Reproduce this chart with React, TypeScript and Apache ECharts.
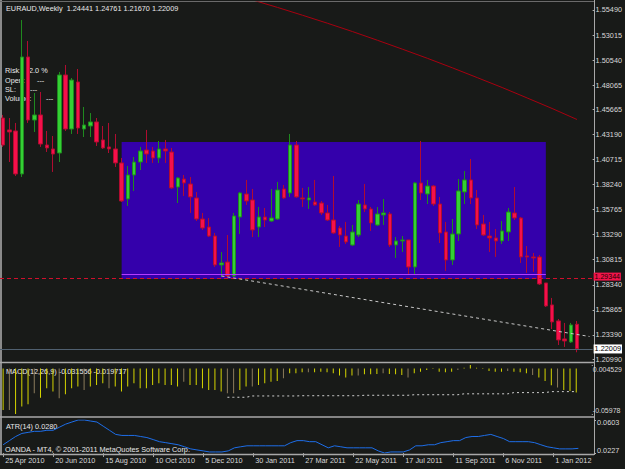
import { useEffect, useRef } from 'react';
import * as echarts from 'echarts';

const FONT = '"Liberation Sans", Arial, sans-serif';
const FS = 7.3;

const symbolTitle = 'EURAUD,Weekly';
const lastQuote = [1.24441, 1.24761, 1.2167, 1.22009];
const startUtc = Date.UTC(2010, 3, 25);
const categoryCount = 95; // 93 weekly bars + chart shift
const monthNames = ['Jan', 'Feb', 'Mar', 'Apr', 'May', 'Jun', 'Jul', 'Aug', 'Sep', 'Oct', 'Nov', 'Dec'];

// weekly OHLC
const opens = [
  1.4482, 1.4364, 1.4354, 1.3929, 1.5085, 1.4462, 1.4512, 1.4215, 1.4176, 1.4136,
  1.4907, 1.4373, 1.4838, 1.4373, 1.4403, 1.4443, 1.4265, 1.4196, 1.4176, 1.4038,
  1.3682, 1.3919, 1.4047, 1.4166, 1.4156, 1.4087, 1.4176, 1.4146, 1.38, 1.3879,
  1.383, 1.3692, 1.3484, 1.3405, 1.3316, 1.303, 1.3059, 1.2921, 1.3504, 1.3731,
  1.3672, 1.3405, 1.3504, 1.3464, 1.3484, 1.3781, 1.3741, 1.4215, 1.3692, 1.3672,
  1.3652, 1.3642, 1.3544, 1.3474, 1.3395, 1.3316, 1.3227, 1.3326, 1.3623, 1.3583,
  1.3425, 1.3524, 1.3534, 1.3227, 1.3267, 1.3277, 1.301, 1.384, 1.3731, 1.381,
  1.3632, 1.3356, 1.3079, 1.3336, 1.3751, 1.387, 1.3692, 1.3435, 1.3316, 1.3297,
  1.3267, 1.3356, 1.3544, 1.3494, 1.3119, 1.3109, 1.3109, 1.2852, 1.2635, 1.2477,
  1.2299, 1.2269, 1.24441,
];
const closes = [
  1.4215, 1.4344, 1.3929, 1.5085, 1.4462, 1.4512, 1.4225, 1.4186, 1.4126, 1.4907,
  1.4373, 1.4857, 1.4383, 1.4413, 1.4443, 1.4245, 1.4186, 1.4176, 1.4038, 1.3662,
  1.3919, 1.4047, 1.4156, 1.4126, 1.4087, 1.4176, 1.4156, 1.3791, 1.3889, 1.384,
  1.3702, 1.3484, 1.3395, 1.3316, 1.303, 1.305, 1.2921, 1.3514, 1.3741, 1.3662,
  1.3376, 1.3504, 1.3474, 1.3494, 1.3771, 1.3692, 1.4215, 1.3702, 1.3682, 1.3692,
  1.3623, 1.3544, 1.3474, 1.3346, 1.3326, 1.3257, 1.3356, 1.3632, 1.3583, 1.3445,
  1.3534, 1.3544, 1.3227, 1.3267, 1.3277, 1.301, 1.384, 1.3741, 1.381, 1.3632,
  1.3346, 1.3079, 1.3336, 1.3761, 1.387, 1.3692, 1.3425, 1.3326, 1.3297, 1.3267,
  1.3366, 1.3553, 1.3494, 1.3109, 1.3109, 1.3099, 1.2842, 1.2625, 1.2467, 1.2289,
  1.2279, 1.2437, 1.22009,
];
const lows = [
  1.4196, 1.4047, 1.3909, 1.3899, 1.4433, 1.4344, 1.4196, 1.4146, 1.3949, 1.4047,
  1.4354, 1.4324, 1.4324, 1.4294, 1.4294, 1.4205, 1.4176, 1.4136, 1.3998, 1.3652,
  1.3613, 1.3761, 1.3968, 1.4038, 1.4038, 1.4038, 1.4038, 1.3781, 1.3642, 1.3712,
  1.3544, 1.3464, 1.3376, 1.3306, 1.301, 1.2911, 1.2911, 1.2911, 1.3336, 1.3623,
  1.3306, 1.3306, 1.3405, 1.3455, 1.3474, 1.3682, 1.3702, 1.3692, 1.3603, 1.3583,
  1.3613, 1.3524, 1.3464, 1.3336, 1.3208, 1.3237, 1.3217, 1.3306, 1.3553, 1.3366,
  1.3415, 1.3425, 1.3208, 1.3099, 1.3158, 1.2931, 1.2931, 1.3672, 1.3632, 1.3613,
  1.3247, 1.2971, 1.303, 1.3267, 1.3632, 1.3632, 1.3385, 1.3316, 1.3158, 1.3109,
  1.3237, 1.3267, 1.3474, 1.305, 1.2951, 1.2961, 1.2832, 1.2615, 1.2397, 1.2239,
  1.222, 1.2259, 1.2167,
];
const highs = [
  1.4512, 1.4482, 1.4433, 1.545, 1.5243, 1.4729, 1.4739, 1.4354, 1.4304, 1.4937,
  1.5006, 1.4877, 1.4966, 1.4591, 1.4531, 1.4482, 1.4403, 1.4433, 1.4324, 1.4087,
  1.4008, 1.4097, 1.4196, 1.4364, 1.4196, 1.4255, 1.4265, 1.4186, 1.3899, 1.3919,
  1.3899, 1.3751, 1.3544, 1.3494, 1.3346, 1.3158, 1.3326, 1.3544, 1.3751, 1.387,
  1.3781, 1.3603, 1.3593, 1.3781, 1.385, 1.382, 1.4324, 1.4255, 1.3791, 1.38,
  1.387, 1.3662, 1.3623, 1.3909, 1.3415, 1.3455, 1.3425, 1.3672, 1.383, 1.3603,
  1.3603, 1.3682, 1.3553, 1.3306, 1.3316, 1.3277, 1.385, 1.4255, 1.387, 1.382,
  1.3702, 1.3455, 1.3484, 1.3879, 1.3958, 1.4077, 1.3771, 1.3524, 1.3455, 1.3385,
  1.3464, 1.3593, 1.38, 1.3504, 1.3217, 1.3148, 1.3129, 1.2852, 1.2704, 1.2496,
  1.2457, 1.2457, 1.24761,
];

const priceMin = 1.2081;
const priceMax = 1.5628;
const priceTicks = [
  1.5549, 1.53015, 1.5054, 1.48065, 1.45665, 1.4319, 1.40715, 1.3824,
  1.35765, 1.3329, 1.30815, 1.2834, 1.25865, 1.2339, 1.2099,
];

// moving average (read at selected bars)
const maBars = [36, 40, 44, 48, 52, 56, 60, 64, 68, 72, 76, 80, 84, 88, 92];
const maValues = [
  1.5727, 1.5648, 1.5574, 1.5497, 1.5418, 1.5336, 1.525, 1.5162,
  1.5072, 1.4978, 1.4881, 1.4783, 1.468, 1.4576, 1.4467,
];

// drawn objects
const boxFromBar = 19;
const boxToBar = 87;
const boxTop = 1.4245;
const boxBottom = 1.2891;
const levelPrice = 1.29344;
const bidPrice = 1.22009;
const trendBars = [35, 94];
const trendPrices = [1.2921, 1.2323];

// MACD
const macdHist = [
  -0.0544, -0.0544, -0.05978, -0.0501, -0.047, -0.0326, -0.0383, -0.026, -0.0304, -0.0391,
  -0.0339, -0.026, -0.0238, -0.0282, -0.0238, -0.0216, -0.0195, -0.026, -0.0238, -0.0304,
  -0.0238, -0.0195, -0.026, -0.026, -0.0216, -0.0195, -0.0216, -0.0216, -0.0238, -0.0173,
  -0.0216, -0.0216, -0.026, -0.0282, -0.0282, -0.0304, -0.0326, -0.0326, -0.0282, -0.0238,
  -0.0238, -0.0216, -0.0195, -0.0173, -0.0164, -0.0129, -0.0063, -0.0063, -0.005, -0.005,
  -0.005, -0.0042, -0.005, -0.0063, -0.0094, -0.012, -0.0094, -0.0094, -0.0077, -0.0077,
  -0.0072, -0.0063, -0.0072, -0.0077, -0.0085, -0.012, -0.0063, -0.0042, -0.002, -0.0007,
  -0.0042, -0.005, -0.0042, -0.002, 0.001, 0.0045, 0.0008, -0.0007, -0.0033, -0.0042,
  -0.0042, -0.0033, -0.0042, -0.005, -0.0063, -0.0085, -0.012, -0.0164, -0.022, -0.0251,
  -0.0282, -0.0295, -0.031556,
];
const macdAltBars = [1, 5, 9, 13, 17, 29, 36, 37, 40, 45, 49, 57, 61, 65, 73, 81, 85, 89];
const macdLineStart = 36;
const macdLine = [
  -0.0378, -0.0378, -0.0378, -0.0378,
  -0.0361, -0.0361, -0.0361, -0.0361, -0.0361, -0.0361, -0.0361, -0.0361,
  -0.0358, -0.0358, -0.0358, -0.0358, -0.0358, -0.0358, -0.0358, -0.0358, -0.0358, -0.0358,
  -0.0352, -0.0352, -0.0352, -0.0352, -0.0352, -0.0352, -0.0352, -0.0352,
  -0.0345, -0.0345, -0.0345, -0.0345, -0.0345, -0.0345, -0.0345, -0.0345,
  -0.0333, -0.0333, -0.0333, -0.0333, -0.0333, -0.0333, -0.0333, -0.0333,
  -0.0317, -0.0317, -0.0317, -0.0317, -0.0317, -0.0317,
  -0.0304, -0.0304, -0.0304, -0.0304, -0.0304,
];
const macdMin = -0.05978;
const macdMax = 0.004529;
const macdSignalNow = -0.019717;

// ATR(14)
const atrValues = [
  0.0321, 0.0368, 0.0415, 0.045, 0.0462, 0.0474, 0.0474, 0.0486, 0.0486, 0.0521,
  0.0556, 0.058, 0.0603, 0.0603, 0.0591, 0.058, 0.0533, 0.0486, 0.0439, 0.0427,
  0.0427, 0.0427, 0.0415, 0.0403, 0.038, 0.0356, 0.0345, 0.0333, 0.0321, 0.0298,
  0.0274, 0.0262, 0.0251, 0.0239, 0.0239, 0.0239, 0.0251, 0.0286, 0.0298, 0.0309,
  0.0309, 0.0309, 0.0309, 0.0309, 0.0309, 0.0309, 0.0345, 0.0368, 0.0368, 0.0356,
  0.0356, 0.0321, 0.0286, 0.0309, 0.0298, 0.0286, 0.0286, 0.0286, 0.0286, 0.0286,
  0.0251, 0.0227, 0.0239, 0.0239, 0.0239, 0.0262, 0.0309, 0.0309, 0.0321, 0.0321,
  0.0345, 0.0356, 0.0368, 0.0368, 0.0403, 0.0415, 0.0415, 0.0427, 0.0439, 0.0415,
  0.0392, 0.0356, 0.0356, 0.0356, 0.0356, 0.0345, 0.0321, 0.0298, 0.0286, 0.0274,
  0.0274, 0.0274, 0.028,
];
const atrMin = 0.0227;
const atrMax = 0.0603;

function fmtDate(i: number) {
  const d = new Date(startUtc + i * 7 * 86400000);
  return `${d.getUTCDate()} ${monthNames[d.getUTCMonth()]} ${d.getUTCFullYear()}`;
}

export default function App() {
  const ref = useRef<HTMLDivElement>(null);
  useEffect(() => {
    const chart = echarts.init(ref.current!, undefined, { renderer: 'svg' });
    const categories = Array.from({ length: categoryCount }, (_, i) => fmtDate(i));
    const barCount = opens.length;
    const candles = opens.map((o, i) => [o, closes[i], lows[i], highs[i]]);
    const maData: (number | null)[] = new Array(categoryCount).fill(null);
    maBars.forEach((b, k) => (maData[b] = maValues[k]));
    const macdMainData = macdHist.map((v, i) => (macdAltBars.includes(i) ? null : v));
    const macdAltData = macdHist.map((v, i) => (macdAltBars.includes(i) ? v : null));
    const macdLineData: (number | null)[] = new Array(categoryCount).fill(null);
    macdLine.forEach((v, k) => (macdLineData[macdLineStart + k] = v));

    const labelColor = '#d8d8d8';
    const baseX = (gi: number) => ({
      type: 'category',
      gridIndex: gi,
      data: categories,
      boundaryGap: true,
      show: gi === 2,
      axisLine: { show: false },
      axisTick: {
        show: gi === 2,
        alignWithLabel: true,
        length: 4,
        interval: (idx: number) => idx % 8 === 0 && idx < barCount,
        lineStyle: { color: '#a0a0a0' },
      },
      axisLabel: {
        show: gi === 2,
        interval: (idx: number) => idx % 8 === 0 && idx < barCount,
        align: 'left',
        padding: [0, 0, 0, 2],
        margin: 4,
        color: labelColor,
        fontSize: FS,
        fontFamily: FONT,
      },
      splitLine: { show: false },
    });

    const richHi = (pad: number) => ({ padding: [pad, 0, 0, 0], color: labelColor, fontSize: FS, fontFamily: FONT });
    const richLo = (pad: number) => ({ padding: [0, 0, pad, 0], color: labelColor, fontSize: FS, fontFamily: FONT });

    const txt = (text: string, x: number, y: number, fill = '#e8e8e8') => ({
      type: 'text',
      x,
      y,
      z: 0,
      silent: true,
      style: { text, fill, fontSize: FS, fontFamily: FONT, verticalAlign: 'middle' },
    });
    const hline = (y: number, x2: number, color: string, w = 1) => ({
      type: 'line',
      z: 0,
      silent: true,
      shape: { x1: 0, y1: y, x2, y2: y },
      style: { stroke: color, lineWidth: w },
    });

    const option: any = {
      animation: false,
      backgroundColor: '#181a18',
      textStyle: { fontFamily: FONT },
      grid: [
        { left: 0, top: 2, width: 594, height: 359 },
        { left: 0, top: 365, width: 594, height: 49 },
        { left: 0, top: 420, width: 594, height: 33 },
      ],
      xAxis: [baseX(0), baseX(1), baseX(2)],
      yAxis: [
        {
          type: 'value',
          gridIndex: 0,
          position: 'right',
          min: priceMin,
          max: priceMax,
          splitLine: { show: false },
          axisLine: { show: false },
          axisTick: { show: true, length: 2, customValues: priceTicks, lineStyle: { color: '#b0b0b0' } },
          axisLabel: {
            customValues: priceTicks,
            formatter: (v: number) => v.toFixed(5),
            margin: 3,
            color: labelColor,
            fontSize: FS,
            fontFamily: FONT,
            lineHeight: 8,
          },
        },
        {
          type: 'value',
          gridIndex: 1,
          position: 'right',
          min: macdMin,
          max: macdMax,
          splitLine: { show: false },
          axisLine: { show: false },
          axisTick: { show: true, length: 1, customValues: [macdMax, macdMin], lineStyle: { color: '#b0b0b0' } },
          axisLabel: {
            customValues: [macdMax, macdMin],
            formatter: (v: number) => (v > 0 ? `{hi|${v.toFixed(6)}}` : `{lo|${v.toFixed(5)}}`),
            rich: {
              hi: { ...richHi(8), fontSize: 7 },
              lo: { ...richLo(8), fontSize: 7 },
            },
            margin: 1,
            color: labelColor,
            fontSize: 7,
            fontFamily: FONT,
          },
        },
        {
          type: 'value',
          gridIndex: 2,
          position: 'right',
          min: atrMin,
          max: atrMax,
          splitLine: { show: false },
          axisLine: { show: false },
          axisTick: { show: true, length: 2, customValues: [atrMax, atrMin], lineStyle: { color: '#b0b0b0' } },
          axisLabel: {
            customValues: [atrMax, atrMin],
            formatter: (v: number) => (v > 0.04 ? `{hi|${v.toFixed(4)}}` : `{lo|${v.toFixed(4)}}`),
            rich: { hi: richHi(4), lo: richLo(6) },
            margin: 3,
            color: labelColor,
            fontSize: FS,
            fontFamily: FONT,
          },
        },
      ],
      series: [
        {
          type: 'line',
          name: 'box',
          xAxisIndex: 0,
          yAxisIndex: 0,
          data: [],
          z: 1,
          silent: true,
          markArea: {
            silent: true,
            itemStyle: { color: '#3400ab', opacity: 1 },
            data: [
              [
                { xAxis: categories[boxFromBar], yAxis: boxTop },
                { xAxis: categories[boxToBar], yAxis: boxBottom },
              ],
            ],
          },
        },
        {
          type: 'candlestick',
          name: 'EURAUD',
          xAxisIndex: 0,
          yAxisIndex: 0,
          data: candles,
          barWidth: 4,
          z: 3,
          itemStyle: {
            color: '#34d034',
            color0: '#f5104b',
            borderColor: '#1f8a1f',
            borderColor0: '#b00c30',
            borderWidth: 1,
          },
        },
        {
          type: 'line',
          name: 'MA',
          xAxisIndex: 0,
          yAxisIndex: 0,
          data: maData,
          connectNulls: true,
          symbol: 'none',
          z: 4,
          lineStyle: { color: '#a80010', width: 1 },
        },
        {
          type: 'line',
          name: 'objects',
          xAxisIndex: 0,
          yAxisIndex: 0,
          data: [],
          z: 5,
          markLine: {
            silent: true,
            symbol: ['none', 'none'],
            data: [
              {
                yAxis: levelPrice,
                lineStyle: { color: '#d0102c', type: [4, 3], width: 1 },
                label: {
                  show: true,
                  position: 'end',
                  distance: 1,
                  offset: [0, -1.5],
                  formatter: () => levelPrice.toFixed(5),
                  backgroundColor: '#f0144a',
                  color: '#200000',
                  padding: [0, 1, 0, 1],
                  lineHeight: 8,
                  fontSize: 7,
                  fontFamily: FONT,
                },
              },
              {
                yAxis: bidPrice,
                lineStyle: { color: '#506070', type: 'solid', width: 1 },
                label: {
                  show: true,
                  position: 'end',
                  distance: 1,
                  formatter: () => bidPrice.toFixed(5),
                  backgroundColor: '#ffffff',
                  color: '#000000',
                  padding: [1, 1, 0, 1],
                  lineHeight: 8,
                  fontSize: FS,
                  fontFamily: FONT,
                },
              },
              [
                {
                  coord: [categories[boxFromBar], levelPrice],
                  lineStyle: { color: '#b43cff', type: 'solid', width: 1 },
                  label: { show: false },
                },
                { coord: [categories[boxToBar], levelPrice] },
              ],
              [
                {
                  coord: [categories[trendBars[0]], trendPrices[0]],
                  lineStyle: { color: '#c8c8c8', type: [3, 3], width: 1 },
                  label: { show: false },
                },
                { coord: [categories[trendBars[1]], trendPrices[1]] },
              ],
            ],
          },
        },
        {
          type: 'bar',
          name: 'MACD',
          xAxisIndex: 1,
          yAxisIndex: 1,
          data: macdMainData,
          barWidth: 1,
          barGap: '-100%',
          itemStyle: { color: '#d6d600' },
        },
        {
          type: 'bar',
          name: 'MACD2',
          xAxisIndex: 1,
          yAxisIndex: 1,
          data: macdAltData,
          barWidth: 1,
          barGap: '-100%',
          itemStyle: { color: '#8c7c5c' },
        },
        {
          type: 'line',
          name: 'MACDline',
          xAxisIndex: 1,
          yAxisIndex: 1,
          data: macdLineData,
          symbol: 'none',
          lineStyle: { color: '#d0d0d0', type: [2, 3], width: 1 },
        },
        {
          type: 'line',
          name: 'ATR',
          xAxisIndex: 2,
          yAxisIndex: 2,
          data: atrValues,
          symbol: 'none',
          lineStyle: { color: '#1e6ee8', width: 1 },
        },
      ],
      graphic: [
        { type: 'rect', z: 0, silent: true, shape: { x: 0, y: 0, width: 2, height: 455 }, style: { fill: '#8a8a8a' } },
        {
          type: 'line',
          z: 0,
          silent: true,
          shape: { x1: 594.5, y1: 0, x2: 594.5, y2: 455 },
          style: { stroke: '#a8a8a8', lineWidth: 1 },
        },
        hline(1.5, 594, '#6a6a6a'),
        hline(362.5, 594, '#a8a8a8', 1.5),
        hline(417, 594, '#a8a8a8', 1.5),
        hline(454.5, 594, '#a8a8a8', 1.5),
        txt(`${symbolTitle}  ${lastQuote.map((v) => v.toFixed(5)).join(' ')}`, 6, 8),
        txt('Risk:', 5, 70),
        txt('2.0 %', 29, 70),
        txt('Open:', 5, 80),
        txt('---', 37, 80),
        txt('SL:', 5, 89),
        txt('---', 30, 89),
        txt('Volume:', 5, 98),
        txt('---', 46, 98),
        txt(`MACD(12,26,9) ${macdHist[macdHist.length - 1].toFixed(6)} ${macdSignalNow.toFixed(6)}`, 6, 371),
        txt(`ATR(14) ${atrValues[atrValues.length - 1].toFixed(4)}`, 6, 426),
        txt('OANDA - MT4, © 2001-2011 MetaQuotes Software Corp.', 5, 449),
      ],
    };
    chart.setOption(option);
    return () => chart.dispose();
  }, []);
  return <div ref={ref} style={{ position: 'fixed', left: 0, top: 0, width: 625, height: 469 }} />;
}
